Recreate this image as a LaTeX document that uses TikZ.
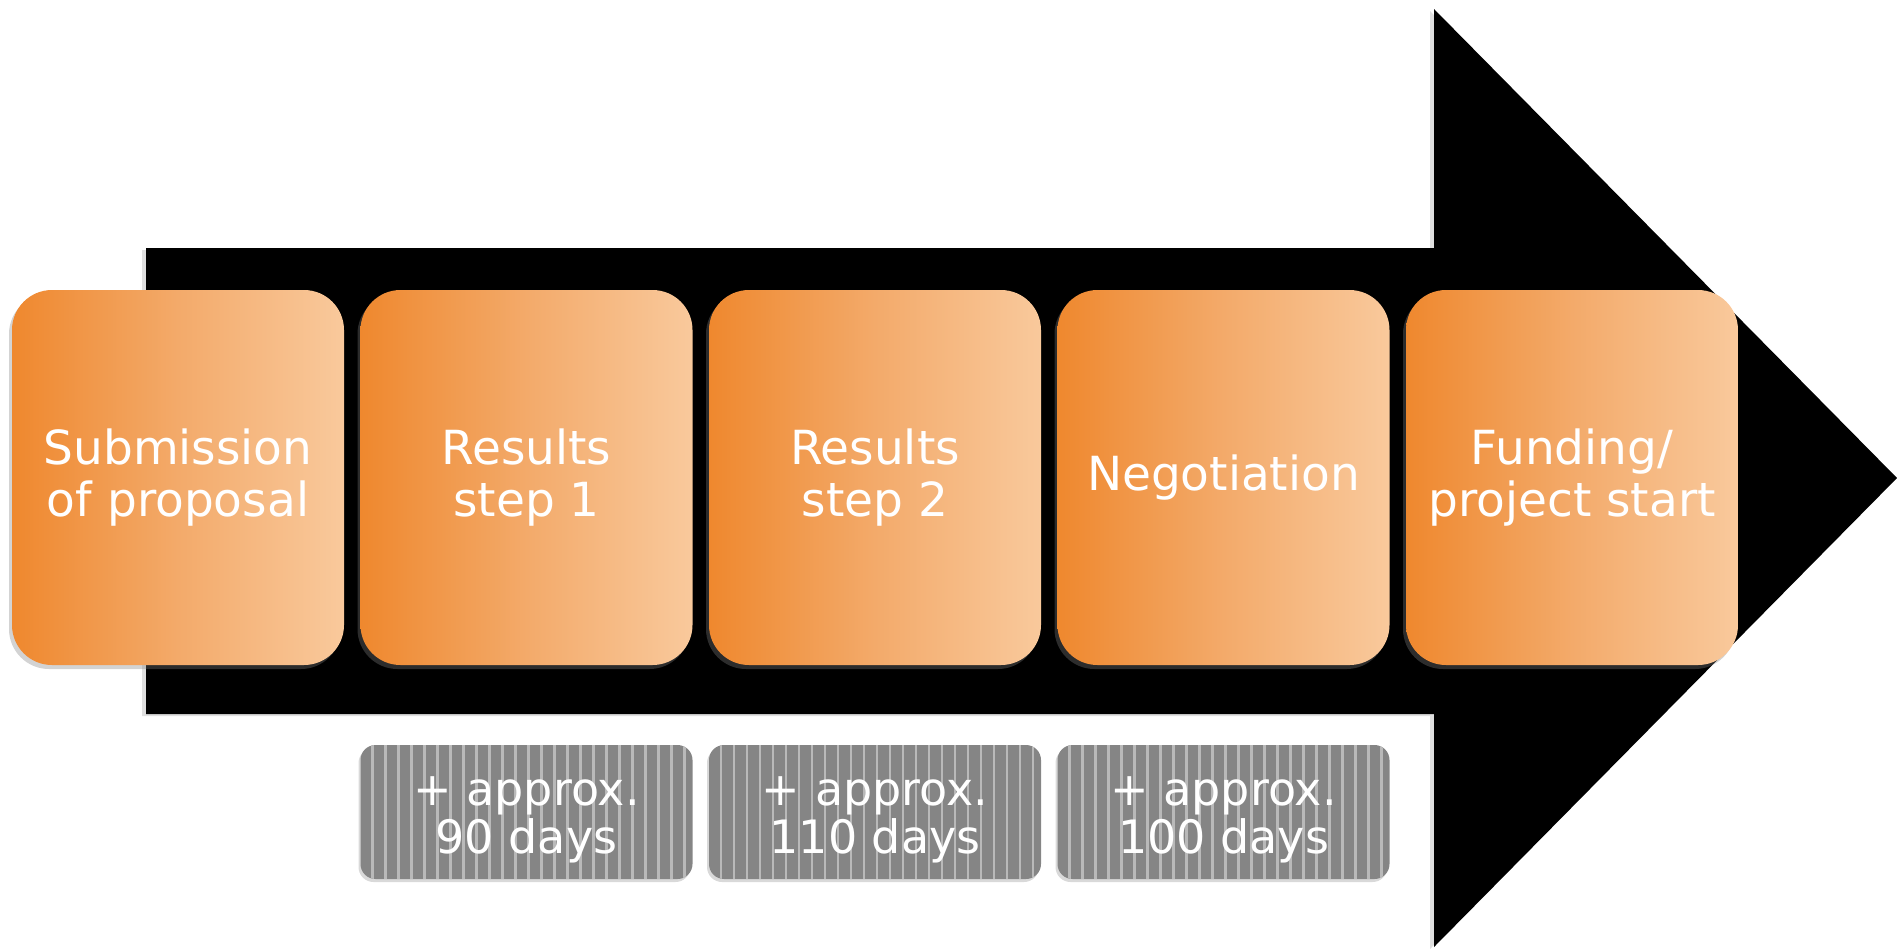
\documentclass[tikz,border=0pt]{standalone}
\usepackage{fontspec}
\setmainfont{DejaVu Sans}
\usetikzlibrary{shadows}

\definecolor{steporange}{RGB}{239,136,46}
\definecolor{stepmid}{RGB}{243,170,106}
\definecolor{steppeach}{RGB}{249,201,156}
\definecolor{daysgrey}{RGB}{133,133,133}
\definecolor{daysstripe}{RGB}{185,185,185}

% lowers a line of text without changing its size
\newcommand{\dayline}[1]{\raisebox{-4pt}[\height][\depth]{#1}}

\begin{document}
\begin{tikzpicture}
[every node/.style={inner sep=0pt, text=white},
 stepbox/.style={rectangle, rounded corners=20pt, minimum width=166pt, minimum height=187.5pt, left color=steporange, right color=steppeach, middle color=stepmid, align=center, font=\fontsize{23.5pt}{26pt}\selectfont, drop shadow={shadow xshift=-1.5pt, shadow yshift=-2pt, opacity=0.35}},
 daysbox/.style={rectangle, rounded corners=7.5pt, minimum width=166pt, minimum height=67pt, fill=daysgrey, align=center, font=\fontsize{23pt}{24pt}\selectfont, drop shadow={shadow xshift=-1pt, shadow yshift=-1.5pt, opacity=0.3},
   path picture={\foreach \k in {0,...,24} \draw [daysstripe, line width=1.2pt] ([xshift=6pt+\k*6.5pt]path picture bounding box.north west) -- ([xshift=6pt+\k*6.5pt]path picture bounding box.south west);}}]
\useasboundingbox (0pt, 0pt) rectangle (948.5pt, -474.5pt);
% black arrow behind the steps
\fill [black, drop shadow={shadow xshift=-2pt, shadow yshift=-1pt, opacity=0.25}] (73pt, -124pt) -- (717pt, -124pt) -- (717pt, -4.5pt) -- (948.5pt, -239pt) -- (717pt, -473.5pt) -- (717pt, -357pt) -- (73pt, -357pt) -- cycle;
\node (1) [stepbox] at (89.0pt, -238.75pt) {Submission\\of proposal};
\node (2) [stepbox] at (263.25pt, -238.75pt) {Results\\step 1};
\node (3) [stepbox] at (437.5pt, -238.75pt) {Results\\step 2};
\node (4) [stepbox] at (611.75pt, -238.75pt) {Negotiation};
\node (5) [stepbox] at (786.0pt, -238.75pt) {Funding/\\project start};
% durations between the steps
\node (d12) [daysbox] at (263.25pt, -406.0pt) {\dayline{+ approx.}\\\dayline{90 days}};
\node (d23) [daysbox] at (437.5pt, -406.0pt) {\dayline{+ approx.}\\\dayline{110 days}};
\node (d34) [daysbox] at (611.75pt, -406.0pt) {\dayline{+ approx.}\\\dayline{100 days}};
\end{tikzpicture}
\end{document}
